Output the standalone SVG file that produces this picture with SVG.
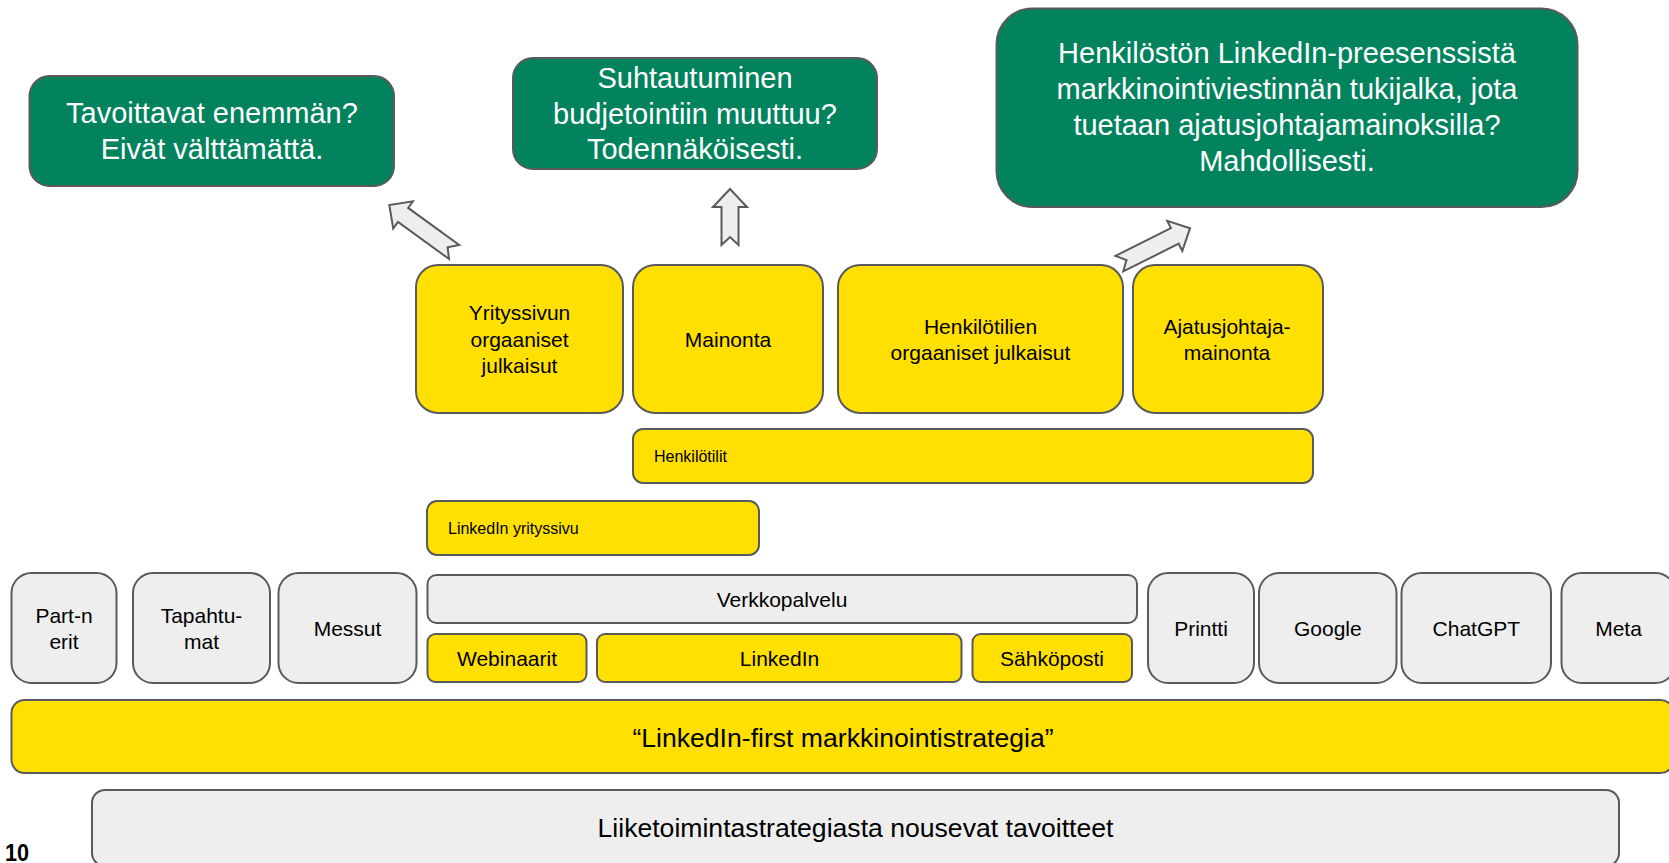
<svg xmlns="http://www.w3.org/2000/svg" width="1669" height="863" viewBox="0 0 1669 863">
<style>
text{font-family:"Liberation Sans",Arial,sans-serif;fill:#000}
.g{fill:#eeeeee;stroke:#5a5a5a;stroke-width:2}
.y{fill:#ffe000;stroke:#5a5a5a;stroke-width:2}
.gr{fill:#02835e;stroke:#5a5a5a;stroke-width:2}
.wt{fill:#ffffff;font-size:29px;text-anchor:middle}
.t21{font-size:21px;text-anchor:middle}
.t16{font-size:16px}
.t27{font-size:26.6px;text-anchor:middle}
.arr{fill:#eeeeee;stroke:#5a5a5a;stroke-width:2;stroke-linejoin:miter}
</style>
<rect width="1669" height="863" fill="#ffffff"/>

<g id="goal1">
<rect class="gr" x="29.5" y="76" width="364.5" height="110" rx="20"/>
<text class="wt" x="212" y="123">Tavoittavat enemmän?</text>
<text class="wt" x="212" y="158.5">Eivät välttämättä.</text>
</g>
<g id="goal2">
<rect class="gr" x="513" y="58" width="364" height="111" rx="20"/>
<text class="wt" x="695" y="88">Suhtautuminen</text>
<text class="wt" x="695" y="123.5">budjetointiin muuttuu?</text>
<text class="wt" x="695" y="159">Todennäköisesti.</text>
</g>
<g id="goal3">
<rect class="gr" x="996.5" y="8.5" width="581" height="198.5" rx="36"/>
<text class="wt" x="1287" y="63">Henkilöstön LinkedIn-preesenssistä</text>
<text class="wt" x="1287" y="99">markkinointiviestinnän tukijalka, jota</text>
<text class="wt" x="1287" y="135">tuetaan ajatusjohtajamainoksilla?</text>
<text class="wt" x="1287" y="171">Mahdollisesti.</text>
</g>

<g id="connectors">
<polygon class="arr" transform="translate(389.3,205) rotate(-144.1)" points="0,0 -17,-16.8 -17,-8.7 -80,-8.7 -72,0 -80,8.7 -17,8.7 -17,16.8"/>
<polygon class="arr" transform="translate(730,189) rotate(-90)" points="0,0 -18,-17 -18,-8.5 -56,-8.5 -48,0 -56,8.5 -18,8.5 -18,17"/>
<polygon class="arr" transform="translate(1190,228.3) rotate(-26.6)" points="0,0 -17,-16.8 -17,-8.7 -79,-8.7 -71,0 -79,8.7 -17,8.7 -17,16.8"/>
</g>

<g id="yrityssivun-julkaisut">
<rect class="y" x="416" y="265" width="207" height="148" rx="22"/>
<text class="t21" x="519.5" y="320">Yrityssivun</text>
<text class="t21" x="519.5" y="346.5">orgaaniset</text>
<text class="t21" x="519.5" y="373">julkaisut</text>
</g>
<g id="mainonta">
<rect class="y" x="633" y="265" width="190" height="148" rx="22"/>
<text class="t21" x="728" y="347">Mainonta</text>
</g>
<g id="henkilotilien-julkaisut">
<rect class="y" x="838" y="265" width="285" height="148" rx="22"/>
<text class="t21" x="980.5" y="333.5">Henkilötilien</text>
<text class="t21" x="980.5" y="360">orgaaniset julkaisut</text>
</g>
<g id="ajatusjohtajamainonta">
<rect class="y" x="1133" y="265" width="190" height="148" rx="22"/>
<text class="t21" x="1227" y="333.5">Ajatusjohtaja-</text>
<text class="t21" x="1227" y="360">mainonta</text>
</g>

<g id="henkilotilit">
<rect class="y" x="633" y="429" width="680" height="54" rx="10"/>
<text class="t16" x="654" y="462">Henkilötilit</text>
</g>
<g id="linkedin-yrityssivu">
<rect class="y" x="427" y="501" width="332" height="54" rx="10"/>
<text class="t16" x="448" y="533.5">LinkedIn yrityssivu</text>
</g>

<g id="partnerit">
<rect class="g" x="11.5" y="573" width="105" height="110" rx="20"/>
<text class="t21" x="64" y="623.3">Part-n</text>
<text class="t21" x="64" y="649.3">erit</text>
</g>
<g id="tapahtumat">
<rect class="g" x="133" y="573" width="137" height="110" rx="20"/>
<text class="t21" x="201.5" y="623.3">Tapahtu-</text>
<text class="t21" x="201.5" y="649.3">mat</text>
</g>
<g id="messut">
<rect class="g" x="278.5" y="573" width="138" height="110" rx="20"/>
<text class="t21" x="347.5" y="636">Messut</text>
</g>
<g id="verkkopalvelu">
<rect class="g" x="427.5" y="575" width="709.5" height="48" rx="9"/>
<text class="t21" x="782" y="606.5">Verkkopalvelu</text>
</g>
<g id="webinaarit">
<rect class="y" x="427.5" y="634" width="159" height="48" rx="8"/>
<text class="t21" x="507" y="665.5">Webinaarit</text>
</g>
<g id="linkedin">
<rect class="y" x="597" y="634" width="364.5" height="48" rx="8"/>
<text class="t21" x="779.5" y="665.5">LinkedIn</text>
</g>
<g id="sahkoposti">
<rect class="y" x="972.5" y="634" width="159.5" height="48" rx="8"/>
<text class="t21" x="1052" y="665.5">Sähköposti</text>
</g>
<g id="printti">
<rect class="g" x="1148" y="573" width="106" height="110" rx="20"/>
<text class="t21" x="1201" y="636">Printti</text>
</g>
<g id="google">
<rect class="g" x="1259" y="573" width="137.5" height="110" rx="20"/>
<text class="t21" x="1327.8" y="636">Google</text>
</g>
<g id="chatgpt">
<rect class="g" x="1401.5" y="573" width="149.5" height="110" rx="20"/>
<text class="t21" x="1476.3" y="636">ChatGPT</text>
</g>
<g id="meta">
<rect class="g" x="1561.5" y="573" width="114" height="110" rx="20"/>
<text class="t21" x="1618.5" y="636">Meta</text>
</g>

<g id="strategia">
<rect class="y" x="11.5" y="700" width="1662" height="73" rx="13"/>
<text class="t27" x="843" y="747">“LinkedIn-first markkinointistrategia”</text>
</g>
<g id="tavoitteet">
<rect class="g" x="92" y="790" width="1527" height="76" rx="13"/>
<text class="t27" x="855.5" y="837">Liiketoimintastrategiasta nousevat tavoitteet</text>
</g>

<g id="page-number">
<text transform="translate(5,861) scale(0.9,1)" style="font-size:24px;font-weight:bold">10</text>
</g>
</svg>
